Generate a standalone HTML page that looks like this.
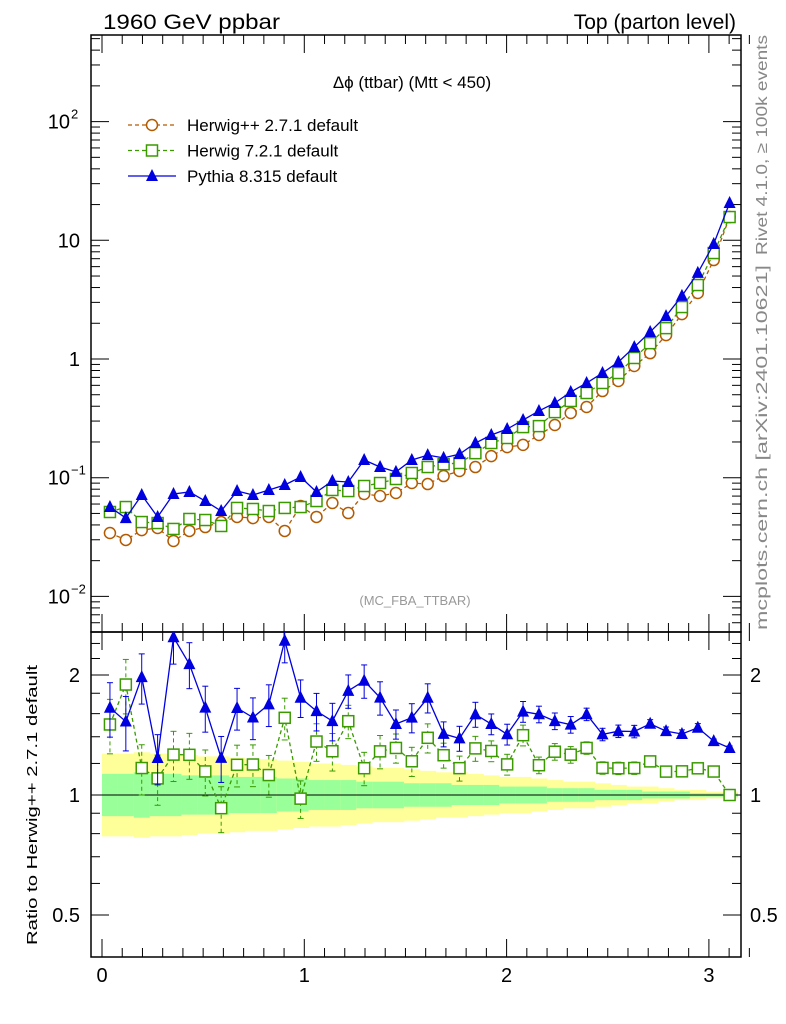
<!DOCTYPE html>
<html><head><meta charset="utf-8"><style>
body{margin:0;background:#fff}
svg{display:block;font-family:"Liberation Sans",sans-serif}
</style></head><body>
<svg id="chart" width="786" height="1024" viewBox="0 0 786 1024" xmlns="http://www.w3.org/2000/svg">
<text x="103" y="29" font-size="21" textLength="177" lengthAdjust="spacingAndGlyphs">1960 GeV ppbar</text>
<text x="736" y="29" font-size="21" text-anchor="end">Top (parton level)</text>
<text x="412" y="88" font-size="17" text-anchor="middle">Δϕ (ttbar) (Mtt &lt; 450)</text>
<text x="415" y="605" font-size="13" fill="#999" text-anchor="middle">(MC_FBA_TTBAR)</text>
<text transform="translate(767,255) rotate(-90)" font-size="16" fill="#888" textLength="220" lengthAdjust="spacingAndGlyphs">Rivet 4.1.0, ≥ 100k events</text>
<text transform="translate(767,630) rotate(-90)" font-size="16" fill="#888" textLength="365" lengthAdjust="spacingAndGlyphs">mcplots.cern.ch [arXiv:2401.10621]</text>
<text transform="translate(37,805) rotate(-90)" font-size="15" text-anchor="middle" textLength="280" lengthAdjust="spacingAndGlyphs">Ratio to Herwig++ 2.7.1 default</text>
<g id="bands"></g><g id="axes"></g><g id="series"></g><g id="legend"></g>
</svg>
<script>
const herwigPP=[0.0342,0.0299,0.0362,0.0377,0.0293,0.0356,0.0384,0.0423,0.0467,0.0457,0.0467,0.0356,0.0578,0.0467,0.0612,0.0504,0.0729,0.0701,0.0743,0.0902,0.0884,0.1033,0.1139,0.123,0.152,0.181,0.189,0.229,0.278,0.351,0.394,0.537,0.653,0.873,1.12,1.59,2.39,3.60,6.82,15.7];
const herwig7=[0.0514,0.0566,0.0423,0.0415,0.0370,0.0449,0.0440,0.0392,0.0556,0.0545,0.0524,0.0556,0.0566,0.0636,0.0788,0.0772,0.0851,0.0902,0.0975,0.1096,0.123,0.130,0.133,0.161,0.196,0.216,0.267,0.272,0.357,0.443,0.517,0.628,0.762,1.02,1.36,1.82,2.74,4.20,7.81,15.7];
const pythia=[0.0566,0.0457,0.0715,0.0467,0.0729,0.0758,0.0636,0.0524,0.0772,0.0715,0.0788,0.0868,0.1014,0.0758,0.0938,0.0920,0.141,0.123,0.112,0.141,0.155,0.147,0.158,0.196,0.229,0.257,0.306,0.365,0.426,0.527,0.628,0.762,0.944,1.26,1.69,2.30,3.40,5.31,9.31,20.6];
const relErr=[0.13,0.13,0.12,0.12,0.12,0.11,0.11,0.11,0.10,0.10,0.10,0.10,0.09,0.09,0.09,0.08,0.08,0.08,0.07,0.07,0.07,0.06,0.06,0.06,0.05,0.05,0.05,0.04,0.04,0.04,0.03,0.03,0.03,0.03,0.02,0.02,0.02,0.02,0.01,0.01];
const greenHi=[1.13,1.13,1.14,1.13,1.13,1.12,1.12,1.12,1.11,1.11,1.11,1.10,1.10,1.09,1.09,1.09,1.08,1.08,1.08,1.07,1.07,1.07,1.06,1.06,1.06,1.05,1.05,1.05,1.04,1.04,1.04,1.03,1.03,1.03,1.02,1.02,1.02,1.01,1.01,1.01];
const yellowHi=[1.27,1.27,1.28,1.27,1.27,1.26,1.25,1.25,1.24,1.23,1.23,1.22,1.21,1.20,1.20,1.19,1.18,1.17,1.17,1.16,1.15,1.14,1.14,1.13,1.12,1.11,1.11,1.10,1.09,1.08,1.08,1.07,1.06,1.05,1.05,1.04,1.03,1.03,1.02,1.02];
const xTicks=[0,1,2,3];
const NS='http://www.w3.org/2000/svg';
const L=91,R=741,T=35,MB=632,RB=957;
const nb=herwigPP.length, bw=Math.PI/nb;
const X=v=>102+v*202.3;
const Ym=v=>359-118.7*Math.log10(v);
const Yr=r=>795-398.6*Math.log10(r);
function mk(p,tag,a){const e=document.createElementNS(NS,tag);for(const k in a)e.setAttribute(k,a[k]);p.appendChild(e);return e;}
const gA=document.getElementById('axes'),gB=document.getElementById('bands'),gS=document.getElementById('series'),gL=document.getElementById('legend');
for(let i=0;i<nb;i++){
 const x0=X(i*bw),x1=X((i+1)*bw);
 const yb=mk(gB,'rect',{x:x0,y:Yr(yellowHi[i]),width:x1-x0+0.5,height:Yr(1/yellowHi[i])-Yr(yellowHi[i]),fill:'#ffff99'});
 
 
 const gb=mk(gB,'rect',{x:x0,y:Yr(greenHi[i]),width:x1-x0+0.5,height:Yr(1/greenHi[i])-Yr(greenHi[i]),fill:'#99ff99'});
 
 
}
mk(gA,'line',{x1:L,x2:R,y1:795,y2:795,stroke:'#000','stroke-width':1});
mk(gA,'rect',{x:L,y:T,width:R-L,height:MB-T,fill:'none',stroke:'#000','stroke-width':1.5});
mk(gA,'rect',{x:L,y:MB,width:R-L,height:RB-MB,fill:'none',stroke:'#000','stroke-width':1.5});
for(let k=0;k<=32;k++){const v=k/10,x=X(v),big=k%10===0,len=big?18:9;
 for(const [y0,d] of [[T,1],[MB,-1],[MB,1],[RB,-1]]) mk(gA,'line',{x1:x,x2:x,y1:y0,y2:y0+d*len,stroke:'#000'});}
xTicks.forEach(v=>{const t=mk(gA,'text',{x:X(v),y:982,'font-size':20,'text-anchor':'middle'});t.textContent=v;
 
 });
for(let e=-3;e<=2;e++)for(let m=1;m<=9;m++){const v=m*Math.pow(10,e),y=Ym(v);if(y<T||y>MB)continue;const len=m===1?18:9;
 mk(gA,'line',{x1:L,x2:L+len,y1:y,y2:y,stroke:'#000'});mk(gA,'line',{x1:R,x2:R-len,y1:y,y2:y,stroke:'#000'});}
const ylab=[[100,'10','2'],[10,'10',''],[1,'1',''],[0.1,'10','−1'],[0.01,'10','−2']];
ylab.forEach(([v,b,s])=>{const t=mk(gA,'text',{x:s?70:80,y:Ym(v)+7,'font-size':20,'text-anchor':'end'});
 t.textContent=(v===10?'10':b);
 
 
 if(s){const u=mk(gA,'text',{x:71,y:Ym(v)-3,'font-size':13});u.textContent=s;}});
[0.5,0.6,0.7,0.8,0.9,1,1.2,1.4,1.6,1.8,2,2.2,2.4].forEach(r=>{const y=Yr(r),big=[0.5,1,2].includes(r),len=big?18:9;
 mk(gA,'line',{x1:L,x2:L+len,y1:y,y2:y,stroke:'#000'});mk(gA,'line',{x1:R,x2:R-len,y1:y,y2:y,stroke:'#000'});
 if(big){for(const [x,a] of [[80,'end'],[750,'start']]){const t=mk(gA,'text',{x:x,y:y+7,'font-size':20,'text-anchor':a});t.textContent=r;
 
 }}});
const defs=[{d:herwigPP,c:'#b35a00',dash:'4,3',m:'circle',n:'herwigpp'},{d:herwig7,c:'#3a9a00',dash:'4,3',m:'square',n:'herwig7'},{d:pythia,c:'#0000e0',dash:'',m:'tri',n:'pythia'}];
function marker(p,type,x,y,c){if(type==='circle')return mk(p,'circle',{cx:x,cy:y,r:5.5,fill:'#fff',stroke:c,'stroke-width':1.5});
 if(type==='square')return mk(p,'rect',{x:x-5.5,y:y-5.5,width:11,height:11,fill:'#fff',stroke:c,'stroke-width':1.5});
 return mk(p,'polygon',{points:`${x},${y-7} ${x-6},${y+5} ${x+6},${y+5}`,fill:c});}
defs.forEach(s=>{
 const g=mk(gS,'g',{});
 
 
 const pts=s.d.map((v,i)=>[X((i+0.5)*bw),Ym(v)]);
 mk(g,'polyline',{points:pts.map(p=>p.join(',')).join(' '),fill:'none',stroke:s.c,'stroke-width':1.3,'stroke-dasharray':s.dash});
 s.d.forEach((v,i)=>{const x=pts[i][0];mk(g,'line',{x1:x,x2:x,y1:Ym(v*(1+relErr[i]*0.5)),y2:Ym(v*(1-relErr[i]*0.5)),stroke:s.c});
  const mm=marker(g,s.m,x,pts[i][1],s.c);
  
  });
 if(s.n==='herwigpp')return;
 const gr=mk(gS,'g',{});
 
 
 const cp=mk(gr,'clipPath',{id:'cp'+s.n});mk(cp,'rect',{x:L,y:MB,width:R-L,height:RB-MB});
 gr.setAttribute('clip-path','url(#cp'+s.n+')');
 const rp=s.d.map((v,i)=>[X((i+0.5)*bw),Yr(v/herwigPP[i])]);
 mk(gr,'polyline',{points:rp.map(p=>p.join(',')).join(' '),fill:'none',stroke:s.c,'stroke-width':1.3,'stroke-dasharray':s.dash});
 s.d.forEach((v,i)=>{const r=v/herwigPP[i],e=relErr[i]*1.2,x=rp[i][0];
  mk(gr,'line',{x1:x,x2:x,y1:Yr(r*(1+e)),y2:Yr(r*(1-e)),stroke:s.c,'stroke-dasharray':s.dash});
  mk(gr,'line',{x1:x-3,x2:x+3,y1:Yr(r*(1+e)),y2:Yr(r*(1+e)),stroke:s.c});
  mk(gr,'line',{x1:x-3,x2:x+3,y1:Yr(r*(1-e)),y2:Yr(r*(1-e)),stroke:s.c});
  const mm=marker(gr,s.m,x,rp[i][1],s.c);
  
  });
});
const leg=[['Herwig++ 2.7.1 default',0],['Herwig 7.2.1 default',1],['Pythia 8.315 default',2]];
leg.forEach(([t,k],j)=>{const s=defs[k],y=125+j*25.5;const g=mk(gL,'g',{});
 
 
 mk(g,'line',{x1:128,x2:176,y1:y,y2:y,stroke:s.c,'stroke-width':1.3,'stroke-dasharray':s.dash});
 marker(g,s.m,152,y,s.c);
 const tx=mk(g,'text',{x:187,y:y+6,'font-size':17});tx.textContent=t;});
</script>
</body></html>
